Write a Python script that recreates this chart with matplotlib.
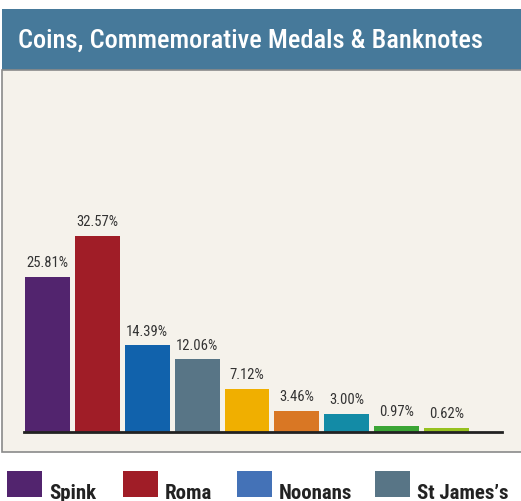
import matplotlib.pyplot as plt
from matplotlib import font_manager
from matplotlib.patches import Rectangle

# data
shares = [25.81, 32.57, 14.39, 12.06, 7.12, 3.46, 3.00, 0.97, 0.62]
bar_colors = ["#52246e", "#a01d27", "#1162ac", "#587586", "#f0af00",
              "#d97724", "#138ba6", "#3ba535", "#96c11f"]
legend_names = ["Spink", "Roma", "Noonans", "St James\u2019s"]
legend_colors = ["#52246e", "#a01d27", "#4472b7", "#587586"]
title = "Coins, Commemorative Medals & Banknotes"

installed = {f.name for f in font_manager.fontManager.ttflist}
FONT = "DejaVu Sans"
for cand in ["Roboto Condensed", "Liberation Sans Narrow", "Roboto"]:
    if cand in installed:
        FONT = cand
        break
plt.rcParams["font.family"] = [FONT, "DejaVu Sans"]

W, H = 521, 502
fig = plt.figure(figsize=(W / 100, H / 100), dpi=100)
fig.patch.set_facecolor("white")


def box(x0, y0, x1, y1):
    # pixel coords from top-left -> figure fraction
    return [x0 / W, 1 - y1 / H, (x1 - x0) / W, (y1 - y0) / H]


# header banner
b = box(2, 10, 521, 71)
fig.patches.append(Rectangle((b[0], b[1]), b[2], b[3], transform=fig.transFigure,
                             facecolor="#46799a", edgecolor="none", zorder=0))
fig.text(18 / W, 1 - 41 / H, title, color="white", fontsize=19,
         fontweight="medium", va="center", ha="left")

# chart panel
p = box(2, 71, 522, 453)
fig.patches.append(Rectangle((p[0], p[1]), p[2], p[3], transform=fig.transFigure,
                             facecolor="#f5f2eb", edgecolor="#8a8a8a", linewidth=1.2,
                             zorder=0))

ax = fig.add_axes(box(24, 72, 502, 433))
ax.set_zorder(3)
ax.set_facecolor("none")
xs = list(range(len(shares)))
ax.bar(xs, shares, width=0.9, color=bar_colors, zorder=2)
for x, v in zip(xs, shares):
    ax.text(x, v + 1.3, f"{v:.2f}%", ha="center", va="bottom",
            fontsize=10.5, color="#333333")
ax.set_xlim(-0.47, 9.11)
ax.set_ylim(0, 60)
for s in ["top", "right", "left"]:
    ax.spines[s].set_visible(False)
ax.spines["bottom"].set_color("#222222")
ax.spines["bottom"].set_linewidth(2)
ax.set_xticks([])
ax.set_yticks([])

# legend (only the first entries fit in the picture)
legend_x = [7, 123, 237, 375]
for x0, name, col in zip(legend_x, legend_names, legend_colors):
    r = box(x0, 472, x0 + 35, 498)
    fig.patches.append(Rectangle((r[0], r[1]), r[2], r[3], transform=fig.transFigure,
                                 facecolor=col, edgecolor="none"))
    fig.text((x0 + 42) / W, 1 - 499 / H, name, fontsize=15, fontweight="bold",
             color="#222222", ha="left", va="baseline")

fig.savefig("out.png", dpi=100)
